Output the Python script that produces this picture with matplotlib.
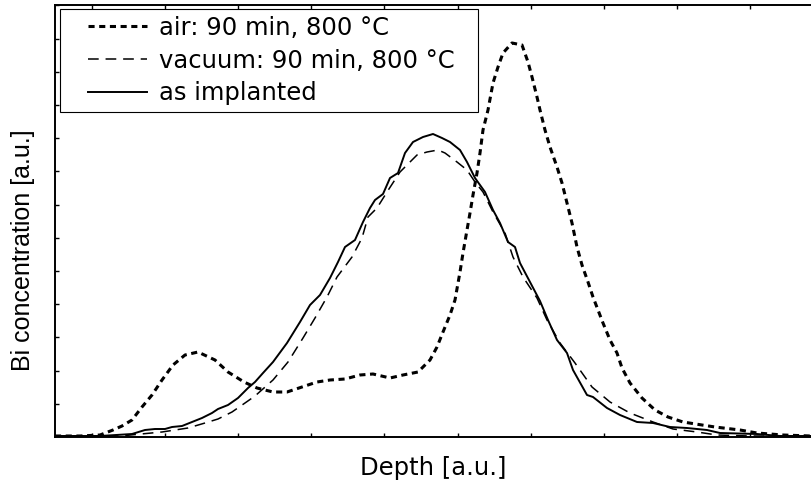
# Bi depth profiles: air vs vacuum anneal vs as implanted
import numpy as np
import matplotlib
matplotlib.use('Agg')
import matplotlib.pyplot as plt
from matplotlib.lines import Line2D
from matplotlib.legend_handler import HandlerLine2D

plt.rcParams['font.family'] = ['DejaVu Sans']

# data (arbitrary units)
air_depth = [0, 25, 45, 58, 67, 77, 87, 97, 107, 118, 130, 143, 160, 173, 189, 202, 218, 232, 247, 262,
             275, 290, 305, 318, 335, 348, 363, 375, 382, 388, 395, 400, 405, 408, 412, 415, 418, 422, 425, 428,
             433, 438, 443, 448, 457, 467, 473, 477, 482, 485, 490, 495, 502, 507, 512, 517, 522, 527, 533, 538,
             543, 548, 555, 562, 567, 575, 587, 600, 613, 628, 647, 660, 685, 702, 728, 756]
air_conc = [1, 1, 2, 7, 11, 17, 30, 42, 57, 72, 82, 85, 77, 65, 55, 49, 45, 45, 50, 55,
            57, 58, 62, 63, 59, 62, 65, 77, 90, 105, 122, 137, 165, 184, 207, 224, 242, 264, 284, 307,
            327, 354, 370, 384, 394, 392, 375, 360, 340, 327, 307, 290, 270, 254, 234, 214, 190, 172, 155, 140,
            127, 114, 97, 84, 69, 54, 39, 27, 20, 15, 12, 10, 7, 4, 2, 1]

vac_depth = [0, 65, 107, 133, 150, 163, 177, 190, 200, 218, 233, 248, 260, 272, 282, 297, 307, 313, 322, 332,
             345, 362, 372, 383, 390, 402, 412, 420, 428, 438, 450, 458, 468, 482, 492, 505, 520, 537, 555, 575,
             598, 618, 642, 662, 695, 756]
vac_conc = [1, 1, 5, 9, 14, 18, 25, 34, 41, 57, 75, 99, 119, 140, 160, 180, 199, 220, 229, 245,
            265, 282, 285, 287, 284, 275, 267, 255, 245, 225, 204, 180, 160, 139, 117, 94, 74, 50, 35, 24,
            15, 8, 5, 2, 1, 1]

imp_depth = [0, 45, 77, 90, 100, 110, 117, 127, 137, 147, 157, 163, 173, 183, 193, 200, 208, 218, 232, 245,
             255, 265, 275, 283, 290, 300, 308, 315, 320, 328, 335, 343, 350, 358, 368, 378, 387, 395, 405, 412,
             420, 430, 438, 445, 453, 460, 465, 475, 485, 493, 502, 512, 518, 532, 538, 552, 565, 582, 598, 615,
             632, 652, 665, 702, 725, 756]
imp_conc = [1, 1, 3, 7, 8, 8, 10, 11, 15, 19, 24, 28, 32, 39, 49, 55, 64, 75, 94, 115,
            132, 142, 159, 175, 190, 197, 215, 229, 237, 243, 259, 264, 284, 295, 300, 303, 299, 295, 287, 275,
            259, 245, 227, 214, 195, 190, 174, 155, 136, 117, 97, 84, 67, 42, 40, 29, 22, 15, 14, 10,
            9, 7, 4, 3, 1, 1]

fig = plt.figure(figsize=(8.11, 4.82), dpi=100)
ax = fig.add_axes([55/811, 45/482, 756/811, 432/482])

ax.plot(air_depth, air_conc, color='black', lw=2.2, dashes=(2, 1.5), label='air: 90 min, 800 °C')
ax.plot(vac_depth, vac_conc, color='black', lw=1.1, dashes=(7, 4.5), label='vacuum: 90 min, 800 °C')
ax.plot(imp_depth, imp_conc, color='black', lw=1.4, label='as implanted')

ax.set_xlim(0, 756)
ax.set_ylim(0, 432)
ax.set_xticks(37 + 73.1 * np.arange(10))
ax.set_yticks(33.2 * np.arange(1, 14))
ax.tick_params(direction='in', length=3, width=1, top=True, labelbottom=False, labelleft=False)
for s in ['left', 'bottom', 'top']:
    ax.spines[s].set_linewidth(1.4)
ax.spines['right'].set_visible(False)

ax.set_xlabel('Depth [a.u.]', fontsize=17.5)
ax.set_ylabel('Bi concentration [a.u.]', fontsize=18, family=['Liberation Sans', 'DejaVu Sans'])
ax.xaxis.set_label_coords(0.5, -0.044)
ax.yaxis.set_label_coords(-0.026, 0.432)

leg = ax.legend(loc='upper left', bbox_to_anchor=(5/756, 0, 418/756, 1 - 4/432), mode='expand',
                borderaxespad=0, fontsize=17.5,
                handlelength=3.3, handletextpad=0.5, labelspacing=0.36, borderpad=0.28,
                handler_map={Line2D: HandlerLine2D(xpad=0.86)},
                fancybox=False, framealpha=1, edgecolor='black')
leg.get_frame().set_linewidth(0.8)

plt.savefig('out.png', dpi=100)
